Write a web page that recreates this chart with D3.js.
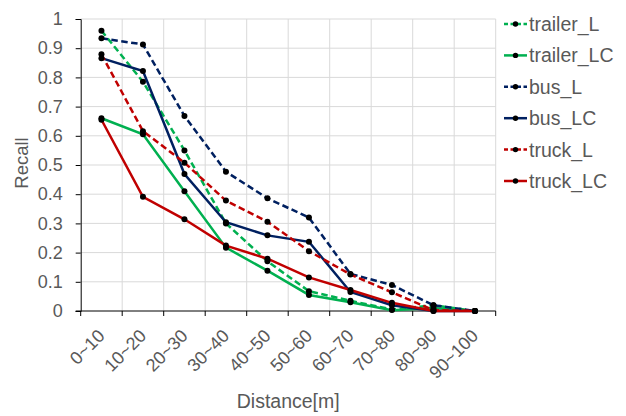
<!DOCTYPE html>
<html>
<head>
<meta charset="utf-8">
<script src="https://cdn.jsdelivr.net/npm/d3@7"></script>
<style>
  body { margin: 0; background: #fff; }
  svg { display: block; }
  text { font-family: "Liberation Sans", Arial, sans-serif; fill: #595959; }
</style>
</head>
<body>
<svg id="chart" width="626" height="416"></svg>
<script>
// Data
const distances = ["0~10", "10~20", "20~30", "30~40", "40~50", "50~60", "60~70", "70~80", "80~90", "90~100"];
const trailerL  = [0.96, 0.785, 0.55, 0.30, 0.17, 0.068, 0.035, 0.005, 0.02, 0];
const trailerLC = [0.66, 0.605, 0.41, 0.217, 0.138, 0.055, 0.03, 0.003, 0.01, 0];
const busL      = [0.934, 0.913, 0.668, 0.477, 0.386, 0.32, 0.127, 0.089, 0.02, 0];
const busLC     = [0.866, 0.822, 0.469, 0.304, 0.259, 0.237, 0.065, 0.02, 0, 0];
const truckL    = [0.879, 0.616, 0.508, 0.378, 0.306, 0.205, 0.125, 0.064, 0.003, 0];
const truckLC   = [0.655, 0.391, 0.314, 0.224, 0.179, 0.115, 0.072, 0.028, 0, 0];
const yTicks = [0, 0.1, 0.2, 0.3, 0.4, 0.5, 0.6, 0.7, 0.8, 0.9, 1];

const series = [
  { name: "trailer_L",  values: trailerL,  color: "#00B050", dashed: true },
  { name: "trailer_LC", values: trailerLC, color: "#00B050", dashed: false },
  { name: "bus_L",      values: busL,      color: "#002060", dashed: true },
  { name: "bus_LC",     values: busLC,     color: "#002060", dashed: false },
  { name: "truck_L",    values: truckL,    color: "#C00000", dashed: true },
  { name: "truck_LC",   values: truckLC,   color: "#C00000", dashed: false },
];

const plot = { left: 80.7, right: 495.7, top: 19, bottom: 311 };
const svg = d3.select("#chart");

// Scales
const x = d3.scaleBand().domain(distances).range([plot.left, plot.right]);
const y = d3.scaleLinear().domain([0, 1]).range([plot.bottom, plot.top]);
const cx = d => x(d) + x.bandwidth() / 2;

// Grid
const grid = svg.append("g").attr("stroke", "#d9d9d9").attr("stroke-width", 1);
grid.selectAll(".h").data(yTicks.slice(1)).join("line")
  .attr("x1", plot.left).attr("x2", plot.right)
  .attr("y1", d => y(d)).attr("y2", d => y(d));
grid.selectAll(".v").data(d3.range(1, distances.length + 1)).join("line")
  .attr("x1", i => plot.left + i * x.bandwidth())
  .attr("x2", i => plot.left + i * x.bandwidth())
  .attr("y1", plot.top).attr("y2", plot.bottom);

// Y axis
const yAxis = svg.append("g").attr("transform", `translate(${plot.left},0)`)
  .call(d3.axisLeft(y).tickValues(yTicks).tickSize(5).tickPadding(13)
    .tickFormat(d => d === 0 ? "0" : d === 1 ? "1" : d3.format(".1f")(d)));
yAxis.select(".domain").attr("stroke", "#000");
yAxis.selectAll(".tick line").attr("stroke", "#000");
yAxis.selectAll(".tick text").attr("font-size", 18).attr("fill", "#595959")
  .attr("font-family", null);

// X axis (ticks at band boundaries)
const xAxisG = svg.append("g");
xAxisG.append("line")
  .attr("x1", plot.left - 5).attr("x2", plot.right)
  .attr("y1", plot.bottom).attr("y2", plot.bottom)
  .attr("stroke", "#000");
xAxisG.selectAll(".xt").data(d3.range(distances.length + 1)).join("line")
  .attr("x1", i => plot.left + i * x.bandwidth())
  .attr("x2", i => plot.left + i * x.bandwidth())
  .attr("y1", plot.bottom).attr("y2", plot.bottom + 5)
  .attr("stroke", "#000");
xAxisG.selectAll("text").data(distances).join("text")
  .attr("transform", d => `translate(${cx(d) + 4.5},${plot.bottom + 26}) rotate(-45)`)
  .attr("text-anchor", "end")
  .attr("font-size", 18)
  .text(d => d);

// Lines
const line = d3.line().x((v, i) => cx(distances[i])).y(v => y(v));
const lines = svg.append("g").attr("fill", "none").attr("stroke-width", 2.5);
series.forEach(s => {
  lines.append("path")
    .attr("d", line(s.values))
    .attr("stroke", s.color)
    .attr("stroke-dasharray", s.dashed ? "6.5,3.5" : null);
});

// Markers
series.forEach(s => {
  svg.append("g").selectAll("circle").data(s.values).join("circle")
    .attr("cx", (v, i) => cx(distances[i]))
    .attr("cy", v => y(v))
    .attr("r", 3)
    .attr("fill", "#000");
});

// Axis titles
svg.append("text")
  .attr("transform", `translate(28,163) rotate(-90)`)
  .attr("text-anchor", "middle")
  .attr("font-size", 18.5)
  .text("Recall");
svg.append("text")
  .attr("x", (plot.left + plot.right) / 2)
  .attr("y", 408)
  .attr("text-anchor", "middle")
  .attr("font-size", 19.5)
  .text("Distance[m]");

// Legend
const legend = svg.append("g");
series.forEach((s, i) => {
  const ly = 24 + i * 31.4;
  legend.append("line")
    .attr("x1", 504).attr("x2", 527).attr("y1", ly).attr("y2", ly)
    .attr("stroke", s.color).attr("stroke-width", 2.5)
    .attr("stroke-dasharray", s.dashed ? "4,2.5" : null);
  legend.append("circle").attr("cx", 515.5).attr("cy", ly).attr("r", 2.7).attr("fill", "#000");
  legend.append("text")
    .attr("x", 529).attr("y", ly).attr("dy", "0.36em")
    .attr("font-size", 19.5)
    .text(s.name);
});
</script>
</body>
</html>
